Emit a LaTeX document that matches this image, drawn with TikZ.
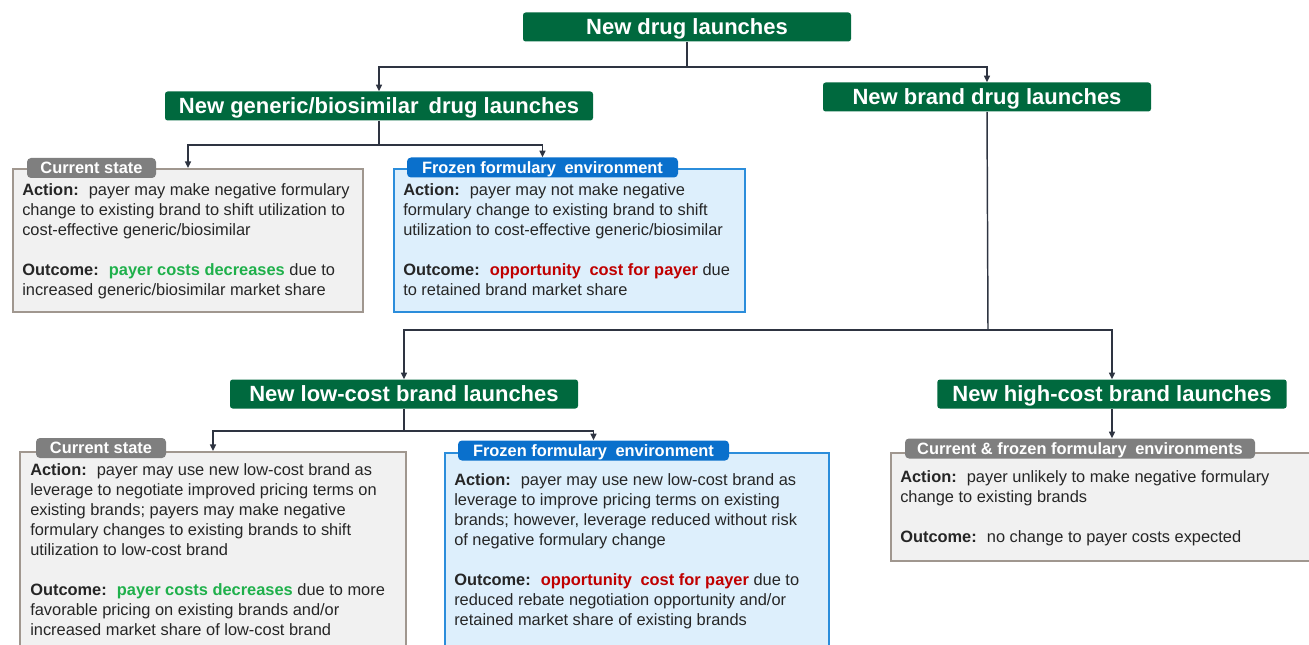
\documentclass[tikz,border=0pt]{standalone}
\usepackage{fontspec}
\setmainfont{Liberation Sans}
\usetikzlibrary{arrows.meta}
\definecolor{hdrgreen}{HTML}{00693E}
\definecolor{tabgray}{HTML}{7F7F7F}
\definecolor{curfill}{HTML}{F1F1F1}
\definecolor{curline}{HTML}{A0978F}
\definecolor{frzfill}{HTML}{DDEFFC}
\definecolor{frzline}{HTML}{2B8DDB}
\definecolor{tabblue}{HTML}{0A70CC}
\definecolor{linkcol}{HTML}{2E3441}
\definecolor{goodcol}{HTML}{1FB04B}
\definecolor{badcol}{HTML}{C00000}
\definecolor{txtcol}{HTML}{262626}
\newcommand{\good}[1]{\textcolor{goodcol}{\textbf{#1}}}
\newcommand{\bad}[1]{\textcolor{badcol}{\textbf{#1}}}
\newcommand{\wsp}{\hspace{3pt}}

\begin{document}
\begin{tikzpicture}[x=0.75pt,y=-0.75pt,
  hdr/.style={fill=hdrgreen,text=white,rounded corners=2pt,inner sep=0pt,minimum height=21.75pt,
    text height=11.8pt,text depth=0pt,font=\fontsize{16.5}{19}\selectfont\bfseries},
  tabnode/.style={text=white,rounded corners=3pt,inner sep=0pt,minimum height=15pt,
    text height=8.9pt,text depth=0pt,font=\fontsize{12.3}{14}\selectfont\bfseries},
  curbox/.style={draw=curline,fill=curfill,line width=1.5pt,inner sep=0pt,anchor=north west},
  frzbox/.style={draw=frzline,fill=frzfill,line width=1.3pt,inner sep=0pt,anchor=north west},
  txt/.style={anchor=north west,align=left,inner sep=0pt,text=txtcol,
    font=\fontsize{12.3}{15}\selectfont},
  link/.style={draw=linkcol,line width=1.1pt},
  arr/.style={link,-{Triangle[length=5pt,width=4.5pt]}}]
\useasboundingbox (0,0) rectangle (1309,645);
\clip (0,0) rectangle (1309,645);

% headers
\node[hdr,minimum width=246pt] (top) at (687,27) {New drug launches};
\node[hdr,minimum width=321pt] (gen) at (379,106) {New generic/biosimilar\wsp{} drug launches};
\node[hdr,minimum width=246pt] (brand) at (987,97) {New brand drug launches};
\node[hdr,minimum width=261pt] (low) at (404,394) {New low-cost brand launches};
\node[hdr,minimum width=262pt] (high) at (1112,394) {New high-cost brand launches};

% outcome boxes
\node[curbox,minimum width=262.5pt,minimum height=107.25pt] (cur1) at (12,168) {};
\node[frzbox,minimum width=263.25pt,minimum height=107.25pt] (frz1) at (393,168) {};
\node[curbox,minimum width=289.5pt,minimum height=160pt] (cur2) at (19,451) {};
\node[frzbox,minimum width=288pt,minimum height=160pt] (frz2) at (444,452) {};
\node[curbox,minimum width=320pt,minimum height=81pt] (both) at (890,452) {};

\node[tabnode,fill=tabgray,minimum width=96.75pt] (tab1) at (91.5,168) {Current state};
\node[tabnode,fill=tabblue,minimum width=203.25pt] (tab2) at (542.5,167.5) {Frozen formulary\wsp{} environment};
\node[tabnode,fill=tabgray,minimum width=97.5pt] (tab3) at (101,448) {Current state};
\node[tabnode,fill=tabblue,minimum width=203.25pt] (tab4) at (593.5,450.5) {Frozen formulary\wsp{} environment};
\node[tabnode,fill=tabgray,minimum width=262.5pt] (tab5) at (1080,448.5) {Current \& frozen formulary\wsp{} environments};

\node[txt] (cur1txt) at (22,183) {\textbf{Action:}\wsp{} payer may make negative formulary\\
  change to existing brand to shift utilization to\\
  cost-effective generic/biosimilar\\[15pt]
  \textbf{Outcome:}\wsp{} \good{payer costs decreases} due to\\
  increased generic/biosimilar market share};
\node[txt] (frz1txt) at (403,183) {\textbf{Action:}\wsp{} payer may not make negative\\
  formulary change to existing brand to shift\\
  utilization to cost-effective generic/biosimilar\\[15pt]
  \textbf{Outcome:}\wsp{} \bad{opportunity\wsp{} cost for payer} due\\
  to retained brand market share};
\node[txt] (cur2txt) at (30,463) {\textbf{Action:}\wsp{} payer may use new low-cost brand as\\
  leverage to negotiate improved pricing terms on\\
  existing brands; payers may make negative\\
  formulary changes to existing brands to shift\\
  utilization to low-cost brand\\[15pt]
  \textbf{Outcome:}\wsp{} \good{payer costs decreases} due to more\\
  favorable pricing on existing brands and/or\\
  increased market share of low-cost brand};
\node[txt] (frz2txt) at (454,473) {\textbf{Action:}\wsp{} payer may use new low-cost brand as\\
  leverage to improve pricing terms on existing\\
  brands; however, leverage reduced without risk\\
  of negative formulary change\\[15pt]
  \textbf{Outcome:}\wsp{} \bad{opportunity\wsp{} cost for payer} due to\\
  reduced rebate negotiation opportunity and/or\\
  retained market share of existing brands};
\node[txt] (bothtxt) at (900,470) {\textbf{Action:}\wsp{} payer unlikely to make negative formulary\\
  change to existing brands\\[15pt]
  \textbf{Outcome:}\wsp{} no change to payer costs expected};

% connectors
\coordinate (j1) at (687,67);
\coordinate (j2) at (379,145);
\coordinate (j3) at (988,330);
\coordinate (j4) at (404,431);
\draw[link] (top.south) -- (j1);
\draw[arr] (j1) -| (gen.north);
\draw[arr] (j1) -| (brand.north);
\draw[link] (gen.south) -- (j2);
\draw[arr] (j2) -| (cur1.north);
\draw[arr] (j2) -| (tab2.north);
\draw[link] (brand.south) -- (j3);
\draw[arr] (j3) -| (low.north);
\draw[arr] (j3) -| (high.north);
\draw[link] (low.south) -- (j4);
\draw[arr] (j4) -| (cur2.north);
\draw[arr] (j4) -| (tab4.north);
\draw[arr] (high.south) -- (high.south |- tab5.north);
\end{tikzpicture}
\end{document}
